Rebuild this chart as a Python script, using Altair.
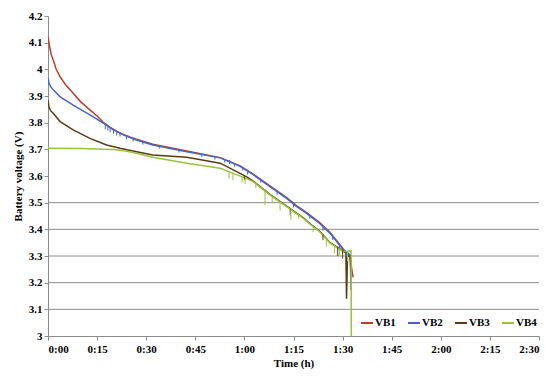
import altair as alt
import pandas as pd

# Time in minutes, voltage in V
vb1_t = [0, 0.5, 1, 1.6, 2.5, 3.7, 5.5, 7.7, 10, 12.8, 15, 17, 19, 21, 23, 25, 27,
         32, 42.4, 52.6, 58.7, 62.7, 67.8, 72.9, 76, 79, 83, 86.2, 90.2, 92.3, 92.8, 93.2]
vb1_v = [4.122, 4.085, 4.055, 4.035, 4.0, 3.972, 3.94, 3.91, 3.878, 3.848, 3.825, 3.80, 3.782, 3.768, 3.756, 3.746, 3.738,
         3.719, 3.694, 3.669, 3.638, 3.607, 3.563, 3.519, 3.488, 3.463, 3.425, 3.388, 3.326, 3.30, 3.25, 3.22]

vb2_t = [0, 0.3, 0.8, 1.6, 3.7, 7.7, 12.8, 16.9, 20, 23, 27, 32, 42.4, 52.6, 58.7, 62.7, 67.8,
         72.9, 76, 79, 83, 86.2, 90.2, 92.3, 92.6]
vb2_v = [3.967, 3.95, 3.935, 3.923, 3.897, 3.866, 3.829, 3.798, 3.773, 3.754, 3.735, 3.716, 3.691, 3.668, 3.636, 3.605, 3.56,
         3.516, 3.485, 3.46, 3.422, 3.385, 3.323, 3.304, 3.173]

vb3_t = [0, 0.3, 0.8, 1.6, 3.7, 7.7, 12.8, 17.9, 22, 26, 32, 42.4, 52.6, 56.6, 60.7, 62.7, 67.8,
         72.9, 78, 80, 83, 86.2, 90.2, 91, 91.2, 91.5, 92.3, 92.6]
vb3_v = [3.885, 3.86, 3.845, 3.835, 3.804, 3.773, 3.741, 3.716, 3.704, 3.694, 3.679, 3.67, 3.648, 3.623, 3.597, 3.581, 3.531,
         3.487, 3.443, 3.422, 3.393, 3.35, 3.318, 3.31, 3.14, 3.30, 3.30, 3.24]

vb4_t = [0, 10, 17, 20, 22, 26, 32, 42.4, 52.6, 56.6, 60.7, 62.7, 67.8, 72.9, 78, 80, 83, 86.2,
         90.2, 92.3, 92.6, 92.65]
vb4_v = [3.704, 3.703, 3.70, 3.699, 3.697, 3.688, 3.670, 3.648, 3.629, 3.61, 3.59, 3.579, 3.529, 3.485, 3.441, 3.42, 3.391, 3.348,
         3.316, 3.32, 3.32, 3.0]

# Short downward measurement spikes: time, top, bottom
vb2_spike_t = [17.5, 18.3, 19, 20, 21, 22, 24, 26, 29, 34, 40, 47, 51, 54, 55.5, 57, 59.5, 61, 65, 70, 75, 80, 84, 87, 89, 91]
vb2_spike_top = [3.793, 3.787, 3.782, 3.773, 3.766, 3.76, 3.75, 3.74, 3.728, 3.712, 3.697, 3.68, 3.672, 3.663, 3.66, 3.648,
                 3.63, 3.62, 3.585, 3.54, 3.495, 3.455, 3.41, 3.375, 3.345, 3.315]
vb2_spike_bot = [3.775, 3.77, 3.765, 3.758, 3.752, 3.748, 3.738, 3.73, 3.718, 3.703, 3.688, 3.672, 3.662, 3.65, 3.645, 3.635,
                 3.62, 3.605, 3.575, 3.53, 3.482, 3.44, 3.395, 3.36, 3.33, 3.295]

vb3_spike_t = [60, 74, 84, 88.5, 90]
vb3_spike_top = [3.60, 3.475, 3.38, 3.335, 3.32]
vb3_spike_bot = [3.585, 3.455, 3.36, 3.30, 3.29]

vb4_spike_t = [55.3, 56.5, 59.3, 60.2, 63.5, 66.3, 68.5, 70.9, 74.2, 76.5, 81, 85, 87.5, 89, 91.5]
vb4_spike_top = [3.615, 3.611, 3.598, 3.593, 3.573, 3.545, 3.522, 3.50, 3.47, 3.455, 3.41, 3.36, 3.34, 3.327, 3.318]
vb4_spike_bot = [3.59, 3.585, 3.575, 3.57, 3.555, 3.49, 3.50, 3.47, 3.435, 3.44, 3.39, 3.335, 3.31, 3.30, 3.28]

grid_values = [3.1, 3.2, 3.3, 3.4, 3.5]
y_ticks = [3.0, 3.1, 3.2, 3.3, 3.4, 3.5, 3.6, 3.7, 3.8, 3.9, 4.0, 4.1, 4.2]
x_ticks = [0, 15, 30, 45, 60, 75, 90, 105, 120, 135, 150]

series_names = ["VB1", "VB2", "VB3", "VB4"]
series_colors = ["#B5402A", "#4466CC", "#5E3A12", "#96C43C"]

rows = []
for name, ts, vs in zip(series_names, [vb1_t, vb2_t, vb3_t, vb4_t], [vb1_v, vb2_v, vb3_v, vb4_v]):
    for i, (t, v) in enumerate(zip(ts, vs)):
        rows.append({"series": name, "t": t, "v": v, "i": i})
df = pd.DataFrame(rows)

spike_rows = []
for name, ts, tops, bots in [("VB2", vb2_spike_t, vb2_spike_top, vb2_spike_bot),
                             ("VB3", vb3_spike_t, vb3_spike_top, vb3_spike_bot),
                             ("VB4", vb4_spike_t, vb4_spike_top, vb4_spike_bot)]:
    for t, a, b in zip(ts, tops, bots):
        spike_rows.append({"series": name, "t": t, "top": a, "bot": b})
spike_df = pd.DataFrame(spike_rows)
grid_df = pd.DataFrame({"g": grid_values})

FONT = "Liberation Serif"

xscale = alt.Scale(domain=[0, 150], nice=False, zero=False)
yscale = alt.Scale(domain=[3.0, 4.2], nice=False, zero=False)
cscale = alt.Scale(domain=series_names, range=series_colors)

x_axis = alt.Axis(values=x_ticks, title="Time (h)", labelOverlap=False,
                  labelExpr="floor(datum.value/60) + ':' + (datum.value%60 < 10 ? '0' : '') + (datum.value%60)")
y_axis = alt.Axis(values=y_ticks, title="Battery voltage (V)", labelOverlap=False,
                  labelExpr="format(datum.value, '.1~f')")

grid = alt.Chart(grid_df).mark_rule(color="#8C8C8C", strokeWidth=1).encode(
    y=alt.Y("g:Q", scale=yscale, axis=y_axis)
)

lines = alt.Chart(df).mark_line(strokeWidth=1.5, clip=True).encode(
    x=alt.X("t:Q", scale=xscale, axis=x_axis),
    y=alt.Y("v:Q", scale=yscale, axis=y_axis),
    color=alt.Color("series:N", scale=cscale,
                    legend=alt.Legend(title=None, orient="none", direction="horizontal",
                                      legendX=312, legendY=300, symbolType="stroke",
                                      symbolSize=144, symbolStrokeWidth=2,
                                      columnPadding=8, labelFont=FONT,
                                      labelFontSize=11, labelFontWeight="bold",
                                      labelColor="#000000", symbolOffset=0, labelOffset=1)),
    order=alt.Order("i:Q"),
    detail="series:N",
)

spikes = alt.Chart(spike_df).mark_rule(strokeWidth=1).encode(
    x=alt.X("t:Q", scale=xscale, axis=x_axis),
    y=alt.Y("top:Q", scale=yscale, axis=y_axis),
    y2="bot:Q",
    color=alt.Color("series:N", scale=cscale, legend=None),
)

chart = alt.layer(grid, lines, spikes).properties(
    width=491, height=320,
    autosize=alt.AutoSizeParams(type="none"),
    padding={"left": 40, "top": 8, "right": 3, "bottom": 40},
).configure_view(stroke=None).configure_axis(
    labelFont=FONT, titleFont=FONT, labelFontSize=11, titleFontSize=11,
    labelFontWeight="bold", titleFontWeight="bold", labelColor="#000000", titleColor="#000000",
    domainColor="#8C8C8C", tickColor="#8C8C8C", tickSize=4, grid=False,
).configure_axisY(labelPadding=2, titlePadding=5).configure_axisX(labelPadding=3, titlePadding=3)

chart.save("out.html", embed_options={"renderer": "svg", "actions": False})
